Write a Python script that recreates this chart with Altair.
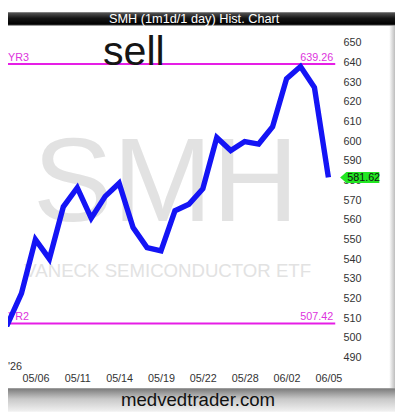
import altair as alt
import pandas as pd

# ---- data ----
dates = ['05/01', '05/04', '05/05', '05/06', '05/07', '05/08', '05/11', '05/12', '05/13',
         '05/14', '05/15', '05/18', '05/19', '05/20', '05/21', '05/22', '05/26', '05/27',
         '05/28', '05/29', '06/01', '06/02', '06/03', '06/04', '06/05']
prices = [507.0, 507.0, 522.7, 550.1, 540.2, 566.7, 576.4, 560.9, 572.0,
          578.7, 556.2, 546.0, 544.3, 564.7, 568.0, 575.9, 601.9, 595.3,
          599.9, 598.6, 607.4, 631.8, 638.0, 627.3, 581.62]
level_names = ['YR3', 'YR2']
level_values = [639.26, 507.42]
last_price = [581.62]
y_ticks = list(range(490, 660, 10))
x_tick_idx = [3, 6, 9, 12, 15, 18, 21, 24]

df = pd.DataFrame({'i': list(range(len(dates))), 'date': dates, 'price': prices})
lv = pd.DataFrame({'name': level_names, 'price': level_values,
                   'label': [f'{v:.2f}' for v in level_values]})
lp = pd.DataFrame({'price': last_price, 'label': [f'{v:.2f}' for v in last_price]})
one = pd.DataFrame({'k': [0]})

W, H = 334, 350
FONT = 'Liberation Sans'
label_arr = '[' + ','.join(f"'{d}'" for d in dates) + ']'

xs = alt.Scale(domain=[1.035, 24.49], nice=False, zero=False)
ys = alt.Scale(domain=[484.38, 658.68], nice=False, zero=False)

x_enc = alt.X('i:Q', scale=xs, title=None,
              axis=alt.Axis(values=x_tick_idx, labelExpr=f"{label_arr}[datum.value]",
                            ticks=False, domain=False, grid=False, labelPadding=4,
                            labelFont=FONT, labelFontSize=11, labelColor='#333333',
                            labelFlush=False, labelOverlap=False))
y_axis = alt.Axis(orient='right', values=y_ticks, ticks=False, domain=False,
                  grid=False, labelPadding=8, labelFont=FONT, labelFontSize=11,
                  labelColor='#333333', labelOverlap=False, labelFlush=False,
                  labelBound=False)


def yv():
    return alt.Y('price:Q', scale=ys, title=None, axis=y_axis)


# watermarks
wm_smh = alt.Chart(one).mark_text(text='SMH', font=FONT, fontSize=122, color='#e2e2e2',
                                  align='center', baseline='alphabetic').encode(
    x=alt.value(161), y=alt.value(199))
wm_name = alt.Chart(one).mark_text(text='VANECK SEMICONDUCTOR ETF', font=FONT, fontSize=19,
                                   color='#e2e2e2', align='center', baseline='alphabetic').encode(
    x=alt.value(163), y=alt.value(256))

# level lines
rules = alt.Chart(lv).mark_rule(color='#e61ee6', strokeWidth=2).encode(y=yv())
lv_names = alt.Chart(lv).mark_text(font=FONT, fontSize=11, color='#dd33dd', align='left',
                                   baseline='alphabetic', dy=-3).encode(
    x=alt.value(0), y=yv(), text='name:N')
lv_vals = alt.Chart(lv).mark_text(font=FONT, fontSize=11, color='#dd33dd', align='right',
                                  baseline='alphabetic', dy=-3).encode(
    x=alt.value(332), y=yv(), text='label:N')

sell = alt.Chart(one).mark_text(text='sell', font=FONT, fontSize=42, color='#151515',
                                align='left', baseline='alphabetic').encode(
    x=alt.value(97), y=alt.value(40))

line = alt.Chart(df).mark_line(color='#1414f5', strokeWidth=5.5, strokeJoin='miter',
                               clip=True).encode(x=x_enc, y=yv())

tag = alt.Chart(lp).mark_point(
    shape='M-1,0 L-0.68,-0.28 L1,-0.28 L1,0.28 L-0.68,0.28 Z', size=1600, filled=True,
    color='#22e622', opacity=1).encode(x=alt.value(359), y=yv())
tag_txt = alt.Chart(lp).mark_text(font=FONT, fontSize=11, color='#111111', align='center',
                                  baseline='middle', dy=1).encode(
    x=alt.value(363), y=yv(), text='label:N')

yr = alt.Chart(one).mark_text(text="'26", font=FONT, fontSize=11, color='#333333',
                              align='left', baseline='middle').encode(
    x=alt.value(0), y=alt.value(348))

# frame: title bar, footer bar, right shadow
title_bar = alt.Chart(one).mark_rect(color=alt.Gradient(
    gradient='linear', x1=0, x2=0, y1=0, y2=1,
    stops=[alt.GradientStop(color='#5a5a5a', offset=0),
           alt.GradientStop(color='#151515', offset=0.45),
           alt.GradientStop(color='#000000', offset=0.88),
           alt.GradientStop(color='#9a9a9a', offset=1)])).encode(
    x=alt.value(0), x2=alt.value(395), y=alt.value(-14), y2=alt.value(0))
title_txt = alt.Chart(one).mark_text(text='SMH (1m1d/1 day) Hist. Chart', font=FONT,
                                     fontSize=13, color='#ffffff', align='center',
                                     baseline='middle').encode(
    x=alt.value(190), y=alt.value(-7))
foot_bar = alt.Chart(one).mark_rect(color=alt.Gradient(
    gradient='linear', x1=0, x2=0, y1=0, y2=1,
    stops=[alt.GradientStop(color='#7a7a7a', offset=0),
           alt.GradientStop(color='#c8c8c8', offset=0.45),
           alt.GradientStop(color='#f2f2f2', offset=1)])).encode(
    x=alt.value(0), x2=alt.value(395), y=alt.value(370), y2=alt.value(394))
foot_txt = alt.Chart(one).mark_text(text='medvedtrader.com', font=FONT, fontSize=19,
                                    color='#111111', align='center',
                                    baseline='alphabetic').encode(
    x=alt.value(194), y=alt.value(388))
shadow = alt.Chart(one).mark_rect(color=alt.Gradient(
    gradient='linear', x1=0, x2=1, y1=0, y2=0,
    stops=[alt.GradientStop(color='#ffffff', offset=0),
           alt.GradientStop(color='#bdbdbd', offset=1)])).encode(
    x=alt.value(389), x2=alt.value(395), y=alt.value(0), y2=alt.value(370))

chart = alt.layer(
    wm_smh, wm_name, rules, lv_names, lv_vals, sell, line, tag, tag_txt, yr,
    shadow, title_bar, title_txt, foot_bar, foot_txt
).properties(
    width=W, height=H,
    autosize=alt.AutoSizeParams(type='none'),
    padding={'top': 14, 'left': 0, 'right': 61, 'bottom': 44},
    background='white'
).configure_view(stroke=None)

chart.save("out.html", embed_options={"renderer": "svg", "actions": False})
